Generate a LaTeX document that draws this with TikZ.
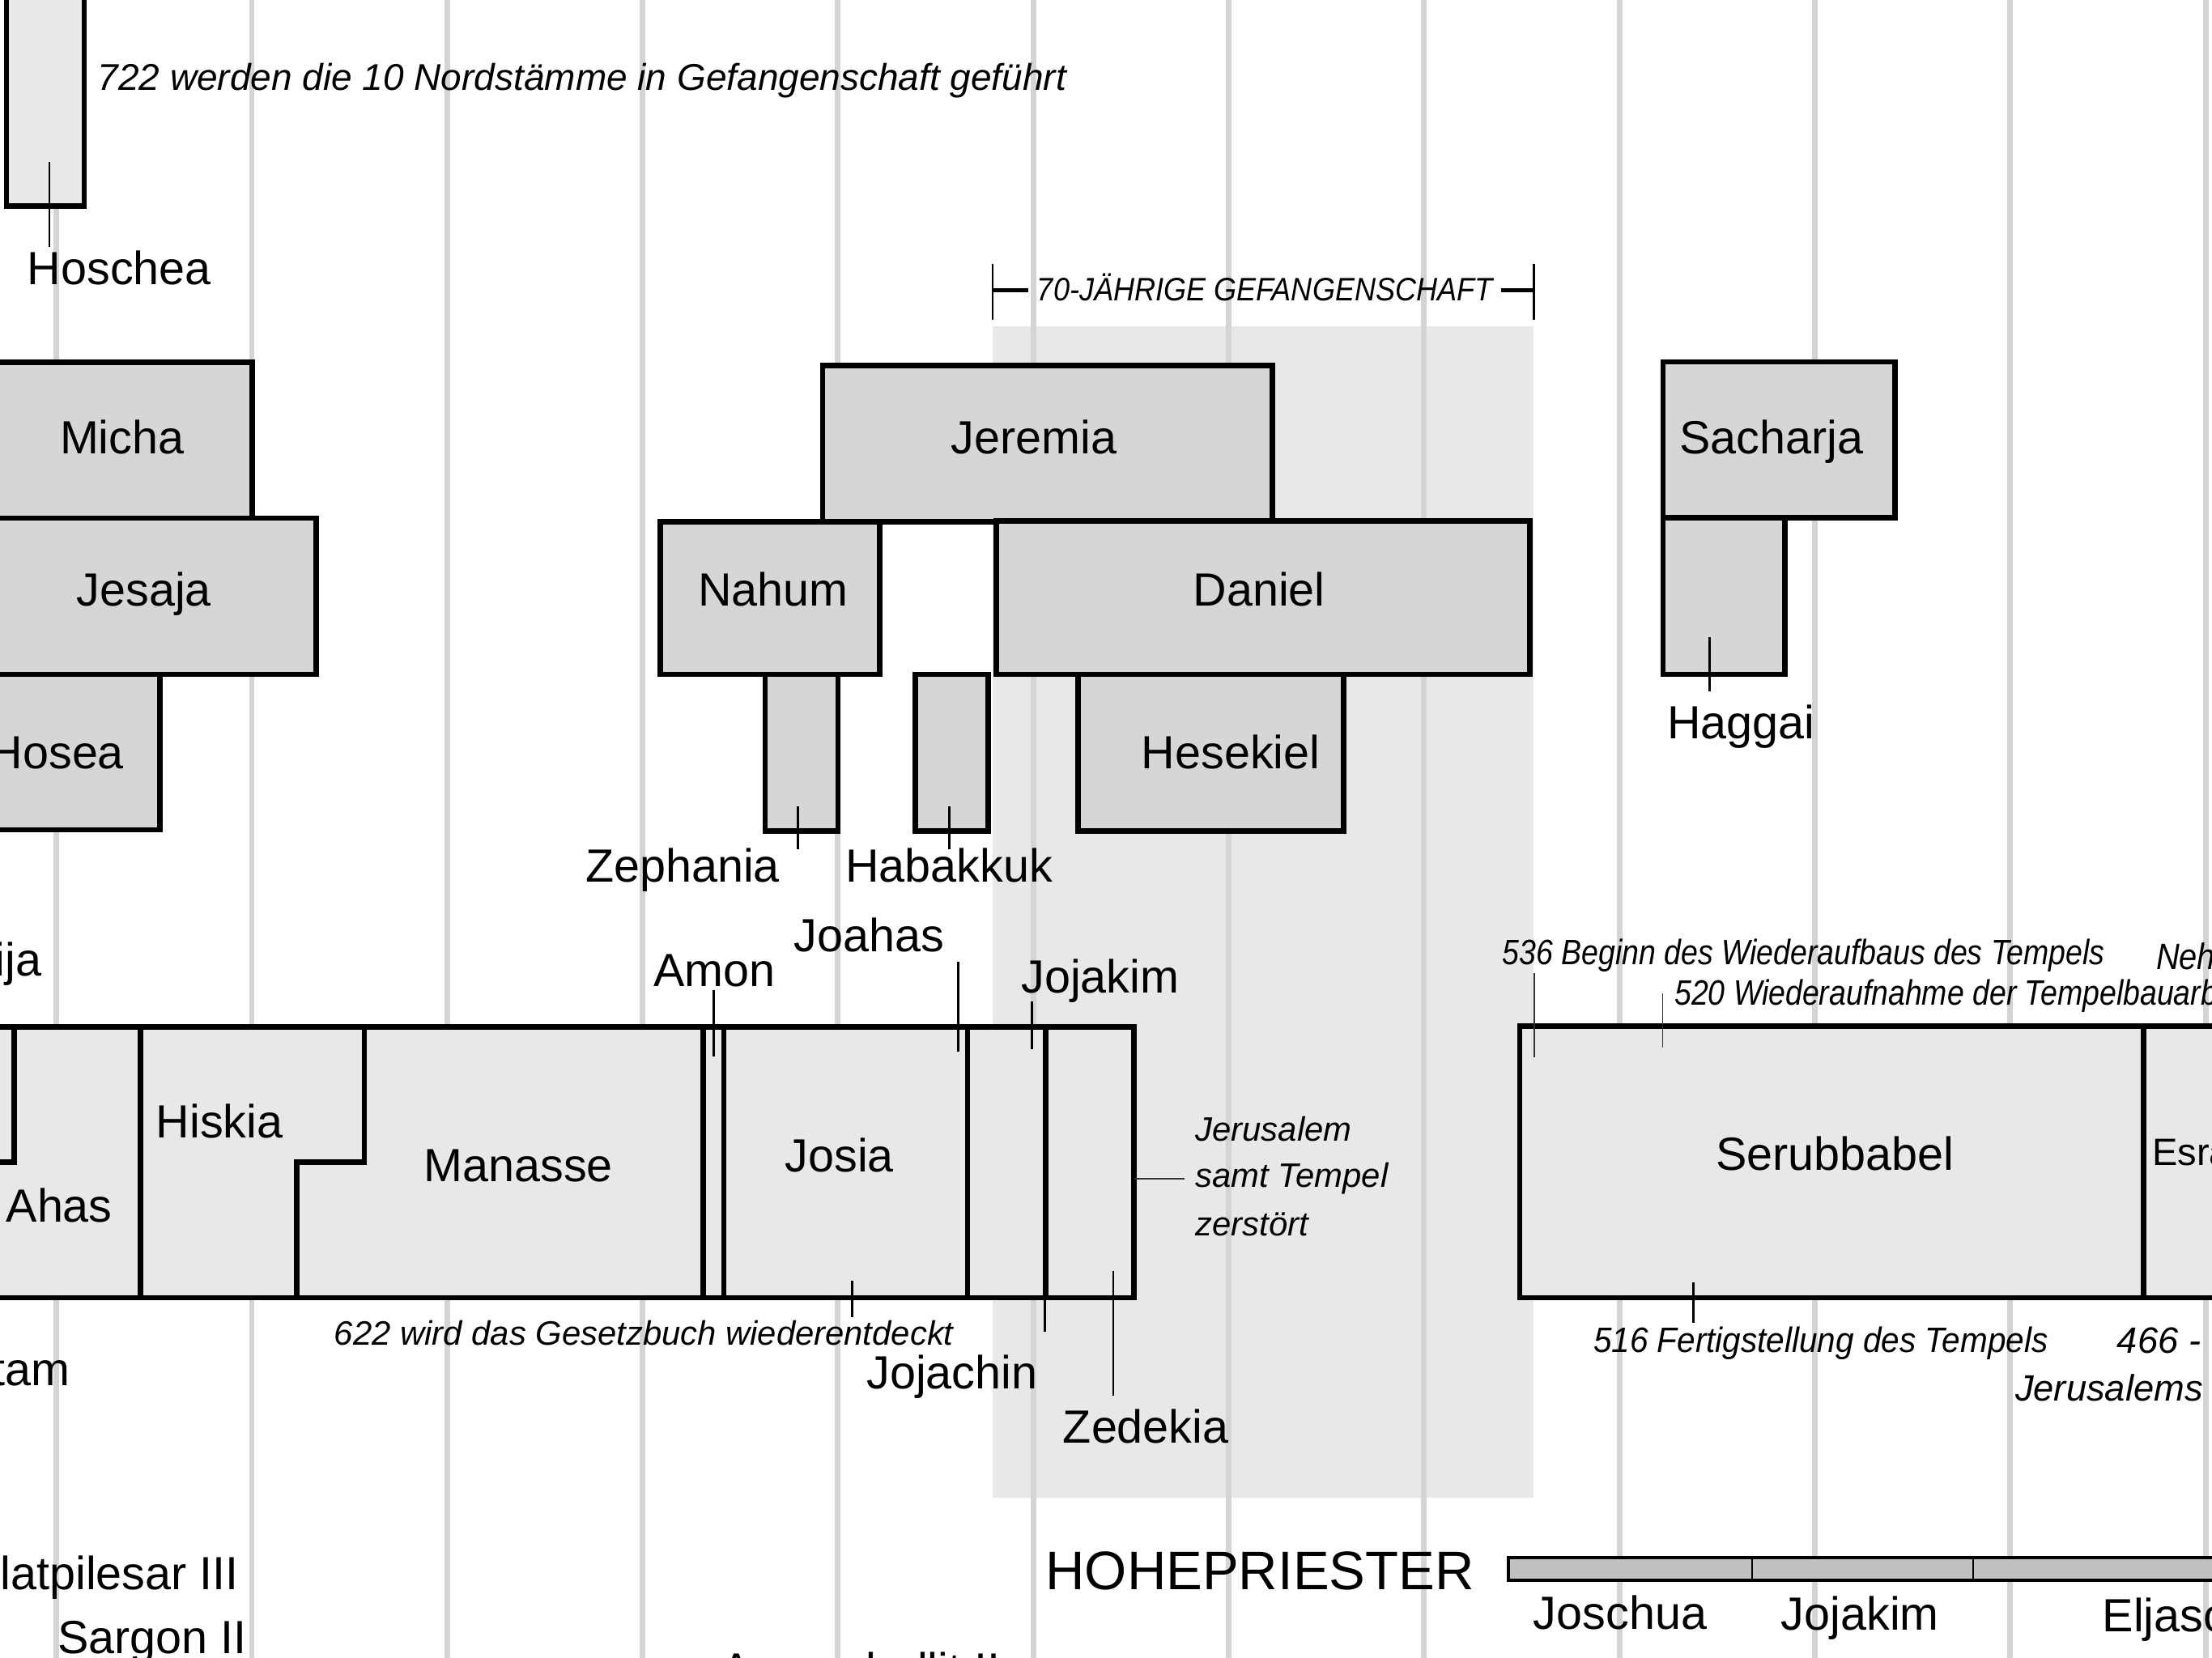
\documentclass[tikz,border=0pt]{standalone}
\usepackage{fontspec}
\usepackage{graphicx}
\setmainfont{Liberation Sans}
\definecolor{gridc}{HTML}{D4D4D4}
\definecolor{shadec}{HTML}{E8E8E8}
\definecolor{kingc}{HTML}{E8E8E8}
\definecolor{prophc}{HTML}{D6D6D6}
\definecolor{hpc}{HTML}{C0C0C0}
\tikzset{
  nm/.style={font=\fontsize{33}{40}\selectfont, inner sep=0pt, outer sep=0pt},
  nt/.style={font=\fontsize{24}{30}\selectfont\itshape, inner sep=0pt, outer sep=0pt},
  ntb/.style={font=\fontsize{26}{32}\selectfont\itshape, inner sep=0pt, outer sep=0pt},
  ntc/.style={font=\fontsize{25}{30}\selectfont\itshape, inner sep=0pt, outer sep=0pt},
  pbox/.style={draw=black, line width=3.8pt, fill=prophc},
  kbox/.style={draw=black, line width=3.8pt, fill=kingc},
  kline/.style={draw=black, line width=3.8pt},
  tickl/.style={draw=black, line width=1.5pt},
  thinl/.style={draw=black!80, line width=1pt},
  gridl/.style={draw=gridc, line width=4pt},
}
\begin{document}
\begin{tikzpicture}[x=1pt,y=-1pt]
\useasboundingbox (0,0) rectangle (1568,1175.4);
\clip (0,0) rectangle (1568,1175.4);
\fill[white] (0,0) rectangle (1568,1175.4);
% captivity shade
\fill[shadec] (703.5,231.4) rectangle (1087.3,1061.8);
% grid lines
\foreach \k in {0,...,11} { \draw[gridl] ({40+138.5*\k},-5) -- ({40+138.5*\k},1185); }

% captivity bracket
\draw[line width=1.2pt] (703.5,187) coordinate (brLa) -- (703.5,226.6) coordinate (brLb);
\draw[line width=2.6pt] (703.5,205.7) coordinate (brLc) -- (729,205.7) coordinate (brLd);
\draw[line width=2.6pt] (1064,205.7) coordinate (brRd) -- (1087.3,205.7) coordinate (brRc);
\draw[line width=1.2pt] (1087.3,187) coordinate (brRa) -- (1087.3,226.6) coordinate (brRb);
\node[font=\fontsize{23}{28}\selectfont\itshape, inner sep=0pt, anchor=base west] (capt) at (735,213.5) {\scalebox{0.9}[1]{70-JÄHRIGE GEFANGENSCHAFT}};

% Hoschea
\draw[kbox] (4.5,-10) rectangle (59.6,146);
\draw[tickl] (34.9,115) coordinate (hoA) -- (34.9,175) coordinate (hoB);
\node[nm, anchor=base west] (hoschea) at (19.5,201.8) {Hoschea};
\node[font=\fontsize{26.4}{30}\selectfont\itshape, inner sep=0pt, anchor=base west] (n722) at (69,64) {722 werden die 10 Nordstämme in Gefangenschaft geführt};

% prophets
\draw[pbox] (-10,256.9) rectangle (178.7,367.3);
\draw[pbox] (-10,367.3) rectangle (224,478);
\draw[pbox] (-10,478) rectangle (113.3,588.3);
\draw[pbox] (583.1,259) rectangle (902,370);
\draw[pbox] (468,370) rectangle (623.5,478);
\draw[pbox] (706.3,369.4) rectangle (1084.5,478);
\draw[pbox] (542.3,478) rectangle (594,589);
\draw[pbox] (649,478) rectangle (700.5,589);
\draw[pbox] (764.3,478) rectangle (952.5,589);
\draw[pbox] (1178.8,256.6) rectangle (1343.4,367);
\draw[pbox] (1178.8,367) rectangle (1265.2,478);

\node[nm, anchor=base] (micha) at (86.5,321.7) {Micha};
\node[nm, anchor=base] (jesaja) at (102,429.4) {Jesaja};
\node[nm, anchor=base east] (hosea) at (87.8,544.7) {Hosea};
\node[nm, anchor=base] (jeremia) at (733,321.7) {Jeremia};
\node[nm, anchor=base] (nahum) at (548,429.4) {Nahum};
\node[nm, anchor=base] (daniel) at (892.5,429.7) {Daniel};
\node[nm, anchor=base] (hesekiel) at (872.5,545) {Hesekiel};
\node[nm, anchor=base] (sacharja) at (1255.7,321.7) {Sacharja};
\node[nm, anchor=base west] (haggai) at (1182,523.6) {Haggai};
\node[nm, anchor=base west] (zephania) at (415,625.3) {Zephania};
\node[nm, anchor=base west] (habakkuk) at (599.4,625.3) {Habakkuk};
\draw[tickl] (565.6,571.6) coordinate (zeA) -- (565.6,602) coordinate (zeB);
\draw[tickl] (673,571.6) coordinate (haA) -- (673,602) coordinate (haB);
\draw[tickl] (1212,451.7) coordinate (hgA) -- (1212,490) coordinate (hgB);

% kings of Judah
\draw[kbox] (-10,727.9) rectangle (803.8,920);
\draw[kline] (10.2,727.9) -- (10.2,824) -- (-10,824);
\draw[kline] (99.6,727.9) -- (99.6,920);
\draw[kline] (258.3,727.9) -- (258.3,824) -- (210.2,824) -- (210.2,920);
\foreach \xx in {498.4,513,685.8,741.4} { \draw[kline] (\xx,727.9) -- (\xx,920); }

\node[nm, anchor=base east] (usija) at (29.3,691.6) {Usija};
\node[nm, anchor=base west] (amon) at (463.2,699.2) {Amon};
\node[nm, anchor=base west] (joahas) at (562.8,674.4) {Joahas};
\node[nm, anchor=base west] (jojakim) at (724,703.8) {Jojakim};
\node[nm, anchor=base west] (ahas) at (4.4,866.5) {Ahas};
\node[nm, anchor=base west] (hiskia) at (110.7,806.8) {Hiskia};
\node[nm, anchor=base] (manasse) at (367.5,837.6) {Manasse};
\node[nm, anchor=base] (josia) at (595,830.6) {Josia};
\node[nm, anchor=base east] (jotam) at (49.8,982.3) {Jotam};
\node[nt, anchor=base west] (n622) at (237,953.6) {622 wird das Gesetzbuch wiederentdeckt};
\node[nm, anchor=base west] (jojachin) at (614.4,984.3) {Jojachin};
\node[nm, anchor=base west] (zedekia) at (753.5,1022.8) {Zedekia};
\node[nt, anchor=base west] (jer1) at (847.5,809.2) {Jerusalem};
\node[nt, anchor=base west] (jer2) at (847.5,841.7) {samt Tempel};
\node[nt, anchor=base west] (jer3) at (847.5,876.2) {zerstört};

\draw[tickl] (506,701.8) coordinate (amA) -- (506,749.2) coordinate (amB);
\draw[tickl] (679.3,682) coordinate (joA) -- (679.3,745.3) coordinate (joB);
\draw[tickl] (731.4,710.2) coordinate (jkA) -- (731.4,744) coordinate (jkB);
\draw[tickl] (604,908) coordinate (geA) -- (604,933.7) coordinate (geB);
\draw[tickl] (740.8,920) coordinate (jcA) -- (740.8,943.9) coordinate (jcB);
\draw[tickl] (789.2,900.9) coordinate (zdA) -- (789.2,989.5) coordinate (zdB);
\draw[thinl] (803.8,835.6) coordinate (jzA) -- (839.8,835.6) coordinate (jzB);

% after exile
\draw[kbox] (1077.2,727.6) rectangle (1620,920);
\draw[kline] (1519.5,727.6) -- (1519.5,920);
\node[nm, anchor=base] (serub) at (1300.8,829.5) {Serubbabel};
\node[font=\fontsize{27}{32}\selectfont, inner sep=0pt, anchor=base west] (esra) at (1525.5,826) {Esra};
\node[ntc, anchor=base west] (n536) at (1065,683.8) {\scalebox{0.86}[1]{536 Beginn des Wiederaufbaus des Tempels}};
\node[ntc, anchor=base west] (n520) at (1187,712.8) {\scalebox{0.86}[1]{520 Wiederaufnahme der Tempelbauarbeiten}};
\node[ntb, anchor=base west] (neh) at (1528.4,687) {\scalebox{0.88}[1]{Nehemia}};
\node[ntc, anchor=base west] (n516) at (1129.5,959) {\scalebox{0.93}[1]{516 Fertigstellung des Tempels}};
\node[ntb, anchor=base west] (n466) at (1500.8,959.5) {466 -};
\node[ntb, anchor=base west] (jerus) at (1428.6,992.9) {Jerusalems};
\draw[thinl] (1087.5,690) coordinate (t536A) -- (1087.5,749.8) coordinate (t536B);
\draw[thinl] (1178.6,704.4) coordinate (t520A) -- (1178.6,742.7) coordinate (t520B);
\draw[line width=1.8pt] (1200.5,909.3) coordinate (t516A) -- (1200.5,938) coordinate (t516B);

% high priests
\node[font=\fontsize{38.5}{44}\selectfont, inner sep=0pt, anchor=base west] (hohe) at (741,1126.8) {HOHEPRIESTER};
\draw[draw=black, line width=2.2pt, fill=hpc] (1069,1104.2) rectangle (1620,1120.5);
\draw[line width=1.3pt] (1242,1104.2) -- (1242,1120.5);
\draw[line width=1.3pt] (1398.7,1104.2) -- (1398.7,1120.5);
\node[nm, anchor=base west] (joschua) at (1087,1155) {Joschua};
\node[nm, anchor=base west] (jojakimhp) at (1262.6,1155.5) {Jojakim};
\node[nm, anchor=base west] (eljaschib) at (1490.3,1156.5) {Eljaschib};

% Assyrian kings
\node[nm, anchor=base east] (tiglat) at (169.1,1126.8) {Tiglatpilesar III};
\node[nm, anchor=base west] (sargon) at (41,1172.3) {Sargon II};
\node[nm, anchor=base west] (assur) at (511,1195) {Assuruballit II};
\end{tikzpicture}
\end{document}
